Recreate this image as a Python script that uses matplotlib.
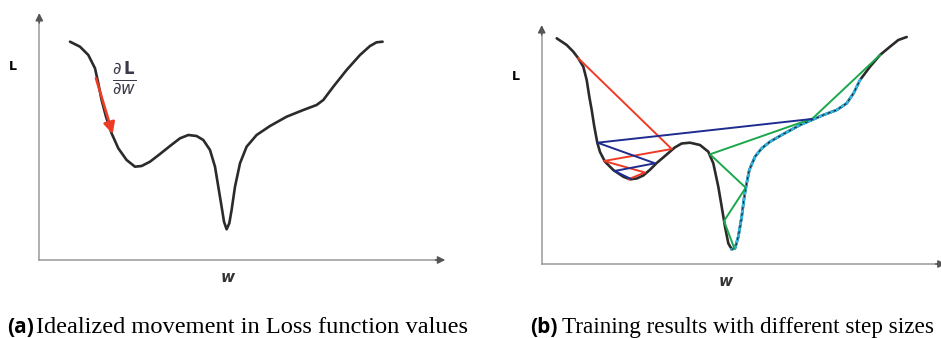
import matplotlib

matplotlib.use("Agg")
import matplotlib.pyplot as plt
import numpy as np

# Loss curve, panel (a): w and L measured from the axis origin (pixels)
W_A = [30.7, 40.7, 49.0, 55.7, 59.0, 62.3, 66.7, 72.3, 79.0, 87.3, 95.7, 102.3,
       110.7, 120.7, 130.7, 140.7, 149.0, 157.3, 164.0, 170.7, 175.7, 179.0,
       182.3, 184.7, 187.3, 190.0, 192.3, 195.7, 200.7, 207.3, 217.3, 230.7,
       247.3, 264.0, 277.3, 284.0, 294.0, 307.3, 320.7, 330.7, 337.3, 343.3]
L_A = [218.3, 213.3, 205.0, 191.7, 176.7, 160.0, 143.3, 126.7, 111.7, 100.0, 93.3,
       94.0, 98.3, 106.0, 114.0, 121.7, 125.0, 124.0, 120.0, 110.0, 93.3, 73.3,
       53.3, 38.3, 30.7, 36.7, 50.0, 73.3, 96.7, 113.3, 125.0, 134.0, 143.3,
       150.0, 155.0, 160.0, 173.3, 190.0, 205.0, 214.0, 217.7, 218.3]

# gradient arrow, panel (a)
GRAD_W = [56.7, 73.4]
GRAD_L = [181.7, 126.0]

# Loss curve, panel (b)
W_B = [15.0, 25.0, 31.6, 36.6, 41.6, 45.0, 47.6, 50.0, 52.5, 55.6, 58.3, 63.3,
       71.6, 81.6, 88.3, 95.0, 101.6, 108.0, 115.0, 125.0, 133.0, 140.0, 148.3,
       158.3, 166.6, 171.6, 176.6, 180.0, 183.3, 186.6, 190.0, 193.3, 196.6,
       200.0, 202.6, 204.3, 207.6, 213.3, 220.0, 228.3, 241.7, 258.3, 270.0,
       281.6, 295.0, 305.0, 312.0, 318.3, 328.3, 338.3, 348.3, 356.6, 365.0]
L_B = [225.7, 219.0, 212.3, 205.7, 197.3, 184.0, 167.3, 154.0, 138.0, 121.3,
       112.0, 102.3, 94.0, 87.3, 84.7, 85.5, 88.5, 94.0, 101.0, 109.5, 116.5,
       120.5, 121.3, 119.0, 112.3, 100.7, 77.3, 57.3, 37.3, 20.7, 14.7, 15.7,
       27.3, 47.3, 67.3, 77.3, 94.0, 107.3, 115.7, 122.3, 130.0, 139.0, 144.0,
       149.0, 154.0, 160.7, 171.0, 184.0, 197.3, 209.0, 217.3, 224.0, 227.0]

# gradient descent paths with different step sizes
RED_W = [36.6, 130.0, 62.3, 103.3, 86.6]
RED_L = [205.7, 115.0, 103.0, 91.5, 84.7]
BLUE_W = [270.0, 55.8, 113.3, 72.8, 89.3]
BLUE_L = [145.0, 121.3, 100.7, 93.0, 85.0]
GREEN_W = [338.3, 270.8, 168.3, 204.0, 182.3, 192.6]
GREEN_L = [209.0, 145.5, 109.7, 76.3, 43.0, 15.7]
CYAN_RANGE = (190.0, 318.5)

CAPTIONS = [("(a)", "Idealized movement in Loss function values"),
            ("(b)", "Training results with different step sizes")]

FIG_W, FIG_H = 941, 338
AXIS_GRAY = "#9a9a9a"
CURVE = "#2b2b2b"
RED = "#ee3b26"
BLUE = "#1f2c8f"
GREEN = "#1ba84c"
CYAN = "#2cb8ea"

fig = plt.figure(figsize=(FIG_W / 100, FIG_H / 100), dpi=100)


def panel(x0, y0, w, h):
    """Axes whose data units are pixels, origin at pixel (x0, y0)."""
    ax = fig.add_axes([x0 / FIG_W, (FIG_H - y0) / FIG_H, w / FIG_W, h / FIG_H])
    ax.set_xlim(0, w)
    ax.set_ylim(0, h)
    ax.axis("off")
    return ax


def draw_axes(ax, xend, yend):
    ax.plot([0, 0], [0, yend - 6], color=AXIS_GRAY, lw=1.1, clip_on=False)
    ax.plot([0, xend - 6], [0, 0], color=AXIS_GRAY, lw=1.1, clip_on=False)
    ax.annotate("", xy=(0, yend), xytext=(0, yend - 10),
                arrowprops=dict(arrowstyle="-|>", color="#555555", lw=1.1,
                                mutation_scale=11, shrinkA=0, shrinkB=0),
                annotation_clip=False)
    ax.annotate("", xy=(xend, 0), xytext=(xend - 10, 0),
                arrowprops=dict(arrowstyle="-|>", color="#555555", lw=1.1,
                                mutation_scale=11, shrinkA=0, shrinkB=0),
                annotation_clip=False)


# ---- panel (a)
ax_a = panel(39.3, 260, 406, 247)
draw_axes(ax_a, 406, 247)
ax_a.plot(W_A, L_A, color=CURVE, lw=1.9, solid_capstyle="round",
          solid_joinstyle="round", clip_on=False)
ax_a.annotate("", xy=(GRAD_W[1], GRAD_L[1]), xytext=(GRAD_W[0], GRAD_L[0]),
              arrowprops=dict(arrowstyle="-|>", color=RED, lw=1.9,
                              mutation_scale=17, shrinkA=0, shrinkB=0))
ax_a.text(84.7, 181, r"$\frac{\partial\,\mathbf{L}}{\partial w}$", fontsize=17,
          color="#3a3a4a", ha="center", va="center")
ax_a.text(-26.3, 194, "L", fontsize=9, fontweight="bold", ha="center", va="center")
ax_a.text(188.7, -18, "w", fontsize=11, fontweight="bold", style="italic",
          color="#333333", ha="center", va="center")

# ---- panel (b)
ax_b = panel(541.7, 264, 399.3, 239)
draw_axes(ax_b, 404, 239)
ax_b.plot(W_B, L_B, color=CURVE, lw=1.9, solid_capstyle="round",
          solid_joinstyle="round", zorder=2)
w_b = np.array(W_B)
l_b = np.array(L_B)
sel = (w_b >= CYAN_RANGE[0]) & (w_b <= CYAN_RANGE[1])
ax_b.plot(w_b[sel], l_b[sel], color=CYAN, lw=1.9, zorder=3)
ax_b.plot(w_b[sel], l_b[sel], color="#1a1a1a", lw=0.8, ls=(0, (2.5, 3)), zorder=4)
ax_b.plot(RED_W, RED_L, color=RED, lw=1.4, zorder=5)
ax_b.plot(BLUE_W, BLUE_L, color=BLUE, lw=1.4, zorder=6)
ax_b.plot(GREEN_W, GREEN_L, color=GREEN, lw=1.4, zorder=5)
ax_b.text(-25.7, 187, "L", fontsize=9, fontweight="bold", ha="center", va="center")
ax_b.text(184.3, -18, "w", fontsize=11, fontweight="bold", style="italic",
          color="#333333", ha="center", va="center")

# ---- captions
for (tag, body), x_tag, x_body, size in zip(CAPTIONS, [7, 530], [36, 562],
                                            [17.6, 16.7]):
    fig.text(x_tag / FIG_W, (FIG_H - 333) / FIG_H, tag, fontsize=15,
             fontweight="bold", family="Open Sans", va="baseline")
    fig.text(x_body / FIG_W, (FIG_H - 333) / FIG_H, body, fontsize=size,
             family="Liberation Serif", va="baseline")

fig.savefig("out.png", dpi=100)
